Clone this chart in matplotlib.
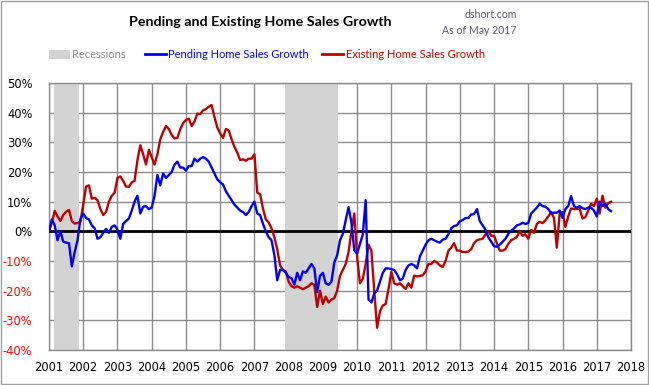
import numpy as np
import matplotlib
matplotlib.use("Agg")
import matplotlib.pyplot as plt
from matplotlib.patches import Rectangle
from matplotlib.lines import Line2D

# monthly YoY growth (%), Jan 2001 .. Jun 2017
pending_growth = [
    0, 4, 2, -3, 0, -3.5, -3.8, -4, -11.8, -7, -3, 4,                  # 2001
    6, 4.5, 4, 2, 1, -2.5, -2, -0.5, 0.8, -0.5, 1.5, 2,                # 2002
    0.5, -2.5, 2.5, 3.5, 4.3, 7, 10, 12, 6, 8.3, 8.5, 7.5,             # 2003
    8, 12, 19, 15.5, 19.5, 18, 19, 20, 22.5, 23.5, 21.5, 21.5,         # 2004
    20.5, 22, 22, 24.5, 23.5, 24.5, 25, 24.5, 23.5, 21.5, 19.5, 17.5,  # 2005
    16.5, 15.8, 13.5, 12, 10.5, 9, 8, 7, 6.5, 5.5, 6.5, 8.5,           # 2006
    10, 6, 5.5, 2.5, 0, -2, -3, -8, -16.5, -13, -13, -14,              # 2007
    -15.4, -15.8, -18, -14, -16.5, -13.5, -14, -12.5, -11, -12.5, -20.5, -15,  # 2008
    -14, -17.5, -18, -17, -10.5, -8.1, -3, -0.8, 3.7, 8.2, 3, -6.4,    # 2009
    -7.5, -4.2, -1, 10.5, -23, -24, -21, -20, -17, -14, -12.5, -12.5,  # 2010
    -12.8, -13, -14.5, -16.5, -16, -13, -11.5, -11, -11.5, -12.5, -8.5, -6.5,  # 2011
    -4.5, -3, -2.5, -3, -3.5, -3.8, -2.8, -2.5, -1, 1, 1.8, 2,         # 2012
    3.4, 3.8, 4.5, 4.5, 5.7, 5.8, 7.5, 3.5, 2, 0.5, -2, -3.5,          # 2013
    -5, -5.2, -4.5, -3.5, -2.5, -0.8, 0.2, 1, 2, 2.3, 2.9, 2.5,        # 2014
    2.8, 6, 7, 8, 9.3, 8.5, 8.3, 7.5, 6, 6.3, 6.3, 7,                  # 2015
    4.5, 7.5, 8.5, 11.9, 8.5, 8, 8.5, 7.8, 7.5, 8, 8, 7,               # 2016
    5, 10, 8.5, 9.3, 7.5, 6.8,                                         # 2017
]

existing_growth = [
    0, 3, 6.9, 5, 3.5, 5.5, 6.6, 7.2, 3.5, 2.6, 2.8, 3.2,              # 2001
    9, 15.1, 15.5, 11, 11.3, 10.5, 7.5, 5.5, 6.5, 10, 12, 13,          # 2002
    18, 18.5, 17, 15.1, 15, 16.5, 17, 24, 29, 26, 22.5, 27.5,          # 2003
    25, 22.5, 26, 31, 33.5, 35.5, 34.5, 32.5, 31.3, 31.5, 34.4, 36.5,  # 2004
    37.5, 38, 35.5, 37, 39.7, 39.5, 40.8, 41.2, 42, 42.6, 38.5, 35,    # 2005
    33, 31.5, 34.5, 34, 31, 28.5, 26.5, 24, 24.3, 23.8, 24.5, 24.5,    # 2006
    26, 13, 12.5, 7.7, 4, 3, 1, -2, -6, -11.5, -13, -13.5,             # 2007
    -17, -18.5, -19, -18.5, -19, -19.5, -19, -18.5, -17.5, -18, -25.5, -20,  # 2008
    -24.5, -22, -24, -23, -22.5, -20, -15, -13, -11, -7, 0, 6,         # 2009
    -8.7, -17.5, -16, -11, -4.5, -6.5, -20, -32.5, -27, -25, -24.5, -19.5,  # 2010
    -13.7, -17.5, -18, -17.5, -18.5, -19.4, -17.5, -19, -14.9, -15.2, -15, -14.8,  # 2011
    -13.5, -11, -11, -10, -10.5, -11.5, -12, -10, -6.5, -5.5, -4, -6.5,  # 2012
    -6.5, -7, -7, -6.8, -6, -4, -3, -2.7, -2.5, -1, 0, -1.5,           # 2013
    -1.5, -4, -6.5, -6.5, -6, -4.2, -3, -2.5, -1.9, 0, -1.5, -1,       # 2014
    -2.5, 0.5, -0.5, 2.5, 3.2, 2.8, 3.7, 5, 6.5, 4.5, -5.5, 6,         # 2015
    6.5, 1.5, 5, 7.7, 7.5, 7.5, 7.7, 4.3, 4.8, 7, 9.3, 8.5,            # 2016
    11, 6, 12, 8, 9.5, 10,                                             # 2017
]

recession_start = [2001.14, 2007.88]
recession_end = [2001.89, 2009.44]

years = list(range(2001, 2019))
y_ticks = list(range(-40, 51, 10))

blue = "#0000FF"
red = "#C00000"
shade = "#D3D3D3"

t = 2001 + np.arange(len(pending_growth)) / 12.0

W, H = 649, 385
fig = plt.figure(figsize=(W / 100, H / 100), dpi=100)
ax = fig.add_axes([49 / W, 1 - 350 / H, (631 - 49) / W, (350 - 83) / H])

for s, e in zip(recession_start, recession_end):
    ax.axvspan(s, e, color=shade, lw=0, zorder=1)

ax.set_xlim(2001, 2018)
ax.set_ylim(-40, 50)
ax.set_xticks(years)
ax.set_yticks(y_ticks)
ax.grid(True, color="#8c8c8c", lw=1.0, zorder=0)
ax.set_axisbelow(True)
ax.axhline(0, color="black", lw=2.0, zorder=3)

ax.plot(t, existing_growth, color=red, lw=1.7, zorder=4)
ax.plot(t, pending_growth, color=blue, lw=1.7, zorder=5)

for sp in ax.spines.values():
    sp.set_color("#8c8c8c")
    sp.set_linewidth(1.0)

ax.tick_params(length=0, labelsize=8.3, pad=8)
ax.tick_params(axis="y", pad=12)
ax.set_xticklabels([str(y) for y in years])
ax.set_yticklabels([f"{v}%" for v in y_ticks])
for lab, v in zip(ax.get_yticklabels(), y_ticks):
    lab.set_color("#FF0000" if v < 0 else "black")

fig.text(260.5 / W, 1 - 22 / H, "Pending and Existing Home Sales Growth",
         ha="center", va="center", fontsize=10.3, fontweight="bold",
         family="Lato")
fig.text(517 / W, 1 - 15 / H, "dshort.com", ha="right", va="center",
         fontsize=7.6, color="#595968", family="Lato")
fig.text(517 / W, 1 - 30 / H, "As of May 2017", ha="right", va="center",
         fontsize=7.6, color="#595968", family="Lato")

# legend row, laid out by hand to match the reference spacing
leg_y = 1 - 54 / H
fig.add_artist(Rectangle((49 / W, 1 - 59 / H), 21 / W, 9 / H,
                         transform=fig.transFigure, facecolor=shade, lw=0))
fig.text(72 / W, leg_y, "Recessions", ha="left", va="center",
         fontsize=8, color="#8c8c8c", family="Lato")
fig.add_artist(Line2D([145 / W, 166 / W], [leg_y, leg_y],
                      transform=fig.transFigure, color=blue, lw=2))
fig.text(168 / W, leg_y, "Pending Home Sales Growth", ha="left", va="center",
         fontsize=8, color=blue, family="Lato")
fig.add_artist(Line2D([322 / W, 343 / W], [leg_y, leg_y],
                      transform=fig.transFigure, color=red, lw=2))
fig.text(346 / W, leg_y, "Existing Home Sales Growth", ha="left", va="center",
         fontsize=8, color=red, family="Lato")

fig.add_artist(Rectangle((0.001, 0.002), 0.997, 0.996, transform=fig.transFigure,
                         fill=False, edgecolor="#a0a0a0", lw=1.0))

fig.savefig("out.png", dpi=100)
